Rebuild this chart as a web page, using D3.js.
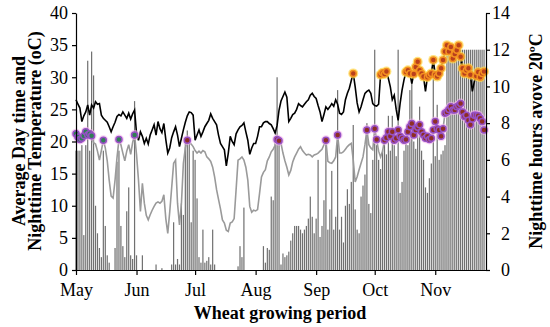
<!DOCTYPE html>
<html>
<head>
<meta charset="utf-8">
<script src="https://cdn.jsdelivr.net/npm/d3@7"></script>
<style>
  body { margin: 0; background: #fff; }
</style>
</head>
<body>
<div id="chart-area"></div>
<script>
// daily series, 1 May to 26 Nov
var startDate = new Date(Date.UTC(2018, 4, 1));
var monthLabels = ["May", "Jun", "Jul", "Aug", "Sep", "Oct", "Nov"];
var tempTicks = [0, 5, 10, 15, 20, 25, 30, 35, 40];
var hourTicks = [0, 2, 4, 6, 8, 10, 12, 14];
var serif = "'Liberation Serif', 'Times New Roman', Times, 'DejaVu Serif', serif";

var dayTemp = [
  26.5, 25.8, 25.2, 23.1, 24.0, 24.6, 25.7, 24.1, 25.7, 25.2, 26.2, 25.8, 25.9, 24.1, 23.6, 23.3, 23.0, 22.3, 21.5, 22.3, 23.0, 23.9, 24.2, 24.0, 24.6, 24.1, 23.6, 24.4, 23.5, 24.3, 24.9,
  21.3, 20.2, 21.5, 20.8, 19.7, 20.5, 19.6, 21.0, 21.8, 22.6, 21.0, 23.1, 22.0, 21.4, 22.8, 20.3, 18.2, 19.0, 20.6, 21.5, 22.3, 21.0, 19.2, 20.5, 21.8, 23.0, 24.0, 24.6, 24.5, 24.1,
  20.2, 21.0, 21.8, 20.8, 21.5, 22.3, 22.8, 23.3, 24.3, 23.6, 23.1, 22.6, 21.0, 19.7, 19.2, 18.7, 16.2, 18.2, 20.8, 20.0, 19.5, 21.2, 21.8, 22.3, 22.5, 22.9, 21.5, 20.2, 18.0, 19.0, 19.7,
  19.7, 20.8, 22.3, 22.3, 22.9, 23.1, 23.1, 22.8, 22.6, 22.0, 21.3, 22.5, 24.9, 26.3, 27.0, 27.7, 26.9, 23.1, 23.6, 24.2, 24.4, 25.0, 25.9, 25.6, 25.4, 25.8, 26.2, 26.5, 27.2, 27.5, 27.0,
  26.7, 25.6, 24.6, 23.1, 24.2, 25.4, 25.0, 25.4, 25.9, 25.5, 26.5, 25.8, 24.4, 24.2, 24.6, 26.5, 27.5, 28.3, 29.5, 30.6, 28.5, 26.0, 24.6, 25.4, 26.5, 27.5, 27.8, 28.0, 27.5, 25.9,
  25.6, 25.5, 25.8, 30.4, 30.7, 30.5, 30.9, 29.8, 28.5, 26.5, 27.2, 25.0, 23.3, 25.9, 28.0, 29.6, 30.8, 31.1, 30.6, 29.0, 30.5, 31.6, 32.4, 31.1, 30.6, 30.1, 27.8, 30.0, 30.3, 30.6, 32.7,
  30.4, 30.1, 30.6, 31.4, 32.7, 34.0, 35.0, 34.0, 34.7, 32.9, 33.6, 34.2, 35.0, 33.2, 31.4, 30.6, 31.1, 31.4, 30.4, 27.8, 29.3, 30.2, 30.8, 30.0, 30.6, 30.9
];

var nightTemp = [
  21.2, 20.7, 20.3, 20.5, 20.9, 21.5, 21.0, 21.2, 20.9, 19.8, 19.6, 18.5, 17.1, 18.6, 20.2, 19.0, 17.0, 14.0, 11.5, 11.2, 14.0, 17.5, 20.3, 19.5, 18.2, 17.0, 18.5, 19.5, 18.0, 19.8, 21.0,
  18.0, 14.0, 9.1, 13.5, 10.4, 8.5, 7.8, 8.6, 9.3, 9.9, 10.4, 10.6, 10.4, 10.7, 11.7, 8.0, 5.7, 9.0, 12.8, 16.6, 17.1, 10.4, 7.0, 10.4, 16.6, 19.0, 20.2, 19.8, 19.6, 19.2,
  18.6, 18.2, 18.5, 18.2, 18.6, 18.4, 17.6, 17.3, 16.9, 16.0, 14.5, 12.5, 11.0, 9.5, 7.8, 7.3, 6.2, 6.0, 7.3, 7.5, 8.0, 12.5, 17.1, 17.3, 17.6, 17.1, 16.0, 14.0, 9.9, 9.0, 9.3,
  9.2, 9.4, 11.9, 14.5, 15.2, 15.6, 17.0, 17.6, 18.4, 18.8, 19.4, 20.3, 20.1, 19.7, 18.2, 17.0, 16.0, 14.8, 15.5, 16.8, 17.6, 18.2, 18.8, 19.2, 18.6, 18.2, 17.9, 18.0, 17.9, 17.6, 17.9,
  18.0, 18.2, 18.5, 18.8, 19.5, 20.2, 16.9, 16.7, 16.6, 17.0, 17.6, 21.0, 18.2, 18.2, 18.4, 18.8, 19.2, 19.5, 19.7, 17.1, 13.7, 14.5, 15.6, 16.6, 17.6, 19.5, 21.8, 19.5, 19.0, 18.7,
  22.0, 20.3, 18.5, 17.6, 18.5, 20.2, 20.6, 21.5, 20.8, 21.5, 20.2, 20.5, 21.8, 20.8, 20.5, 20.2, 20.3, 21.5, 22.3, 22.8, 21.0, 21.8, 22.2, 22.6, 21.5, 21.0, 20.5, 20.8, 20.3, 20.5, 21.8,
  23.1, 22.0, 21.8, 20.8, 22.0, 24.4, 24.6, 25.0, 25.4, 24.9, 24.9, 25.4, 25.6, 25.9, 24.6, 23.9, 24.1, 23.3, 22.6, 23.5, 24.1, 24.1, 24.0, 23.6, 23.1, 21.8
];

var nightHours = [
  6.5, 6.5, 6.5, 6.8, 1.9, 6.8, 11.4, 6.5, 11.9, 10.6, 3.5, 2.0, 1.2, 0.7, 6.5, 2.4, 0.8, 0.4, 0, 0, 1.2, 5.9, 6.5, 2.4, 1.3, 0.7, 3.2, 4.5, 0.8, 0.6, 9.2,
  0.8, 0, 0, 0.8, 0, 0, 0, 0, 0, 0, 0.3, 0, 0, 0.1, 0, 0, 0, 0, 0.3, 2.6, 0.3, 0.6, 0.3, 3.6, 3.0, 7.0, 7.6, 7.0, 2.6, 6.5,
  6.0, 3.9, 0.7, 0.4, 2.2, 0.4, 0.5, 0.7, 0.3, 2.2, 0.3, 0, 0, 0, 0, 0, 0, 0, 0, 0, 0, 0, 0.2, 1.3, 0.7, 3.4, 0, 0, 0, 0, 0,
  0, 0, 0, 0, 1.3, 0.4, 1.2, 1.1, 4.0, 3.8, 7.0, 10.5, 7.0, 0.3, 0.9, 0.7, 0.8, 1.0, 1.6, 2.0, 2.4, 2.4, 2.4, 2.2, 2.0, 2.2, 2.4, 2.8, 4.0, 2.9, 2.0,
  2.8, 6.0, 1.8, 2.4, 3.8, 7.1, 2.2, 3.3, 5.4, 2.2, 2.9, 9.8, 2.2, 2.9, 1.5, 3.5, 4.4, 3.6, 4.8, 7.9, 3.3, 2.2, 2.0, 4.0, 4.6, 5.2, 8.0, 3.6, 3.1, 6.0,
  12.0, 6.8, 6.0, 5.5, 6.5, 7.0, 6.3, 8.4, 6.5, 8.4, 6.8, 6.2, 12.0, 4.2, 4.8, 6.5, 7.2, 6.8, 9.8, 10.3, 7.0, 6.6, 7.4, 8.9, 6.5, 6.0, 4.5, 4.2, 5.0, 5.8, 11.6,
  6.2, 9.0, 6.0, 6.3, 6.5, 6.8, 12, 12, 12, 12, 12, 12, 12, 12, 12, 12, 12, 12, 12, 12, 12, 12, 12, 12, 12, 12
];

var data = dayTemp.map(function(d, i) {
  return {
    date: d3.utcDay.offset(startDate, i),
    day: d,
    night: nightTemp[i],
    hours: nightHours[i],
    month: i < 31 ? 0 : 1
  };
});

var margin = {top: 13, right: 64, bottom: 57, left: 76},
    width = 550 - margin.left - margin.right,
    height = 327 - margin.top - margin.bottom;

var root = d3.select("#chart-area")
  .append("svg")
    .attr("width", 550)
    .attr("height", 327);

var svg = root.append("g")
    .attr("transform", "translate(" + margin.left + "," + margin.top + ")");

var x = d3.scaleUtc()
  .domain([startDate, d3.utcDay.offset(startDate, 210)])
  .range([0, width]);

var yT = d3.scaleLinear().domain([0, 40]).range([height, 0]);
var yH = d3.scaleLinear().domain([0, 14]).range([height, 0]);

// bars: nighttime hours
svg.selectAll(".bar")
  .data(data)
  .enter()
  .append("rect")
    .attr("class", "bar")
    .attr("x", function(d) { return x(d.date) - 0.6; })
    .attr("width", 1.2)
    .attr("y", function(d) { return yH(d.hours); })
    .attr("height", function(d) { return yH(0) - yH(d.hours); })
    .attr("fill", "#707070");

// lines
var dayLine = d3.line()
  .x(function(d) { return x(d.date); })
  .y(function(d) { return yT(d.day); });
var nightLine = d3.line()
  .x(function(d) { return x(d.date); })
  .y(function(d) { return yT(d.night); });

svg.append("path")
  .datum(data)
  .attr("d", nightLine)
  .attr("fill", "none")
  .attr("stroke", "#9a9a9a")
  .attr("stroke-width", 1.6);

svg.append("path")
  .datum(data)
  .attr("d", dayLine)
  .attr("fill", "none")
  .attr("stroke", "#000")
  .attr("stroke-width", 1.6);

// markers: night >= 20 and day >= 30
var hotNights = data.filter(function(d) { return d.night >= 20; });
var hotDays = data.filter(function(d) { return d.day >= 30; });

svg.selectAll(".nhalo")
  .data(hotNights)
  .enter()
  .append("circle")
    .attr("cx", function(d) { return x(d.date); })
    .attr("cy", function(d) { return yT(d.night); })
    .attr("r", 5)
    .attr("fill", "#f4b4ec")
    .attr("opacity", 0.6);

svg.selectAll(".nmark")
  .data(hotNights)
  .enter()
  .append("circle")
    .attr("cx", function(d) { return x(d.date); })
    .attr("cy", function(d) { return yT(d.night); })
    .attr("r", 3)
    .attr("fill", function(d) { return d.month == 0 ? "#2f7f55" : "#8e2e24"; })
    .attr("stroke", "#9650c4")
    .attr("stroke-width", 1.5);

svg.selectAll(".dhalo")
  .data(hotDays)
  .enter()
  .append("circle")
    .attr("cx", function(d) { return x(d.date); })
    .attr("cy", function(d) { return yT(d.day); })
    .attr("r", 5)
    .attr("fill", "#ffd84a")
    .attr("opacity", 0.7);

svg.selectAll(".dmark")
  .data(hotDays)
  .enter()
  .append("circle")
    .attr("cx", function(d) { return x(d.date); })
    .attr("cy", function(d) { return yT(d.day); })
    .attr("r", 3)
    .attr("fill", "#b9401c")
    .attr("stroke", "#f39020")
    .attr("stroke-width", 1.5);

// axes
var monthTicks = x.ticks(d3.utcMonth);

var xAxis = svg.append("g")
  .attr("transform", "translate(0," + height + ")")
  .call(d3.axisBottom(x)
    .tickValues(monthTicks)
    .tickSize(5)
    .tickSizeOuter(0)
    .tickFormat(function(d, i) { return monthLabels[i]; }));
xAxis.selectAll("text")
  .attr("y", 26)
  .attr("dy", null);

var leftAxis = svg.append("g")
  .call(d3.axisLeft(yT).tickValues(tempTicks).tickSize(4).tickSizeOuter(0).tickPadding(4));

var rightAxis = svg.append("g")
  .attr("transform", "translate(" + width + ",0)")
  .call(d3.axisRight(yH).tickValues(hourTicks).tickSize(4).tickSizeOuter(0));
rightAxis.selectAll("text")
  .attr("x", 24)
  .attr("text-anchor", "end");

svg.selectAll(".tick text")
  .attr("fill", "#000")
  .style("font-family", serif)
  .style("font-size", "18px");

svg.selectAll(".domain, .tick line")
  .attr("stroke", "#000")
  .attr("stroke-width", 1.2);

// titles
function title(tx, ty, rot, label) {
  root.append("text")
    .attr("transform", "translate(" + tx + "," + ty + ")" + (rot ? " rotate(-90)" : ""))
    .attr("text-anchor", "middle")
    .attr("fill", "#000")
    .style("font-family", serif)
    .style("font-size", "18px")
    .style("font-weight", "bold")
    .text(label);
}

title(25, 141, true, "Average Day time and");
title(41, 141, true, "Nighttime Temperature (oC)");
title(542, 141, true, "Nighttime hours avove 20ºC");
title(280, 319, false, "Wheat growing period");
</script>
</body>
</html>
